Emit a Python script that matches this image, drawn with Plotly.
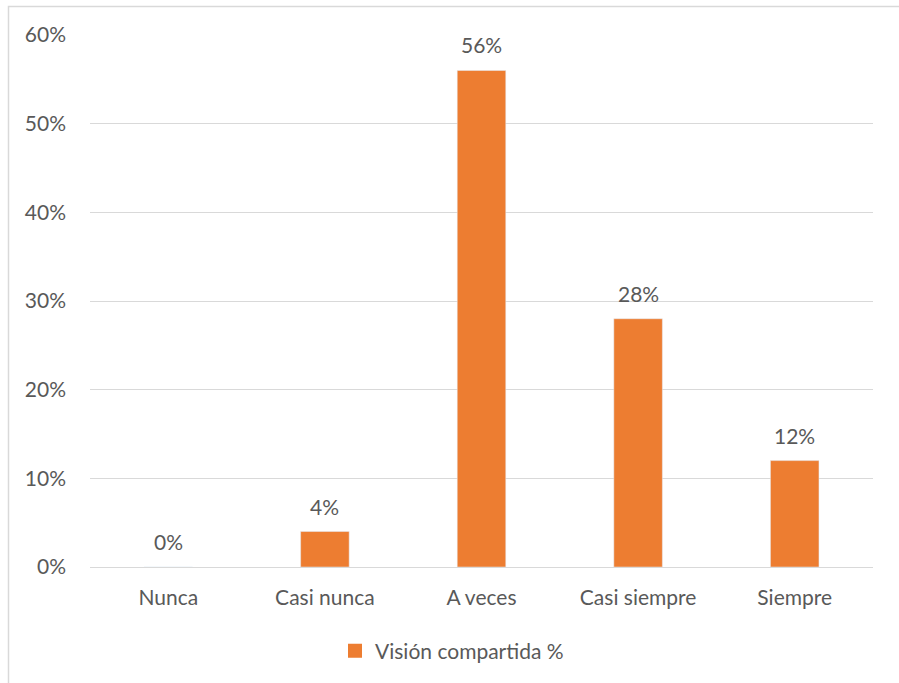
import plotly.graph_objects as go

categories = ["Nunca", "Casi nunca", "A veces", "Casi siempre", "Siempre"]
values = [0.0, 0.04, 0.56, 0.28, 0.12]
labels = ["0%", "4%", "56%", "28%", "12%"]
series_name = "Visión compartida %"
y_ticks = [0, 0.1, 0.2, 0.3, 0.4, 0.5, 0.6]
y_tick_text = ["0%", "10%", "20%", "30%", "40%", "50%", "60%"]

W, H = 899, 683
L, R, T, B = 90, 26, 35, 116
pw, ph = W - L - R, H - T - B

font_fam = "Lato, Open Sans, sans-serif"
txt_col = "#595959"
fs = 21
bar_col = "#ED7D31"

fig = go.Figure()
fig.add_trace(go.Bar(
    x=categories, y=values, name=series_name,
    marker=dict(color=bar_col),
    width=0.31,
    showlegend=False,
))
# legend entry with a larger square symbol
fig.add_trace(go.Scatter(
    x=[None], y=[None], mode="markers", name=series_name,
    marker=dict(symbol="square", size=14, color=bar_col),
    showlegend=True,
))
for c, v, t in zip(categories, values, labels):
    fig.add_annotation(x=c, y=v, text=t, showarrow=False, yanchor="bottom",
                       yshift=11, font=dict(size=fs, color=txt_col, family=font_fam))

def px_x(p):
    return (p - L) / pw

def px_y(p):
    return (H - B - p) / ph

fig.update_layout(
    width=W, height=H,
    margin=dict(l=L, r=R, t=T, b=B, autoexpand=False),
    paper_bgcolor="white", plot_bgcolor="white",
    font=dict(family=font_fam, size=fs, color=txt_col),
    xaxis=dict(showgrid=False, showline=False, ticks="", ticklabelstandoff=16,
               tickfont=dict(size=fs, color=txt_col)),
    yaxis=dict(range=[0, 0.6], tickvals=y_ticks, ticktext=y_tick_text,
               showgrid=True, gridcolor="#d9d9d9", gridwidth=1.3,
               zeroline=True, zerolinecolor="#d9d9d9", zerolinewidth=1.3,
               showline=False, ticks="", ticklabelstandoff=23,
               tickfont=dict(size=fs, color=txt_col)),
    legend=dict(orientation="h", x=px_x(452), y=px_y(651), xanchor="center", yanchor="middle",
                font=dict(size=fs, color=txt_col), itemwidth=30, bgcolor="rgba(0,0,0,0)"),
    shapes=[dict(type="rect", xref="paper", yref="paper",
                 x0=px_x(8.5), x1=px_x(910), y0=px_y(700), y1=px_y(6.5),
                 line=dict(color="#d9d9d9", width=1.5), fillcolor="rgba(0,0,0,0)", layer="below")],
)

fig.write_html("out.html")
